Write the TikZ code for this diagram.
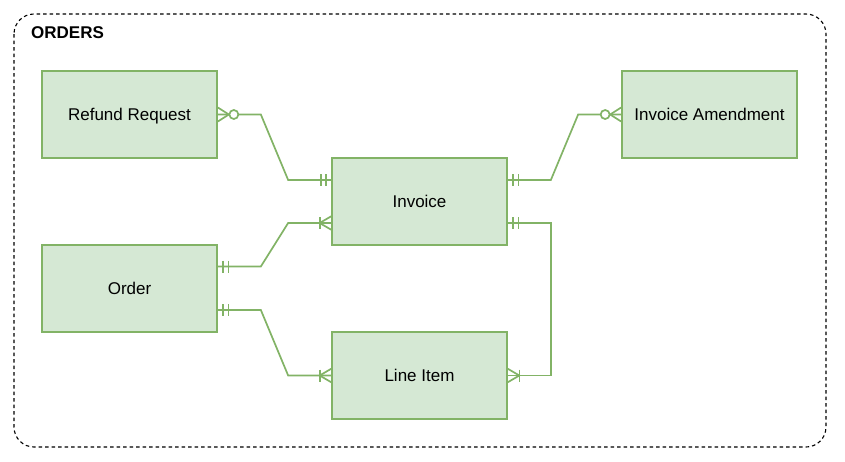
\documentclass[tikz,border=0pt]{standalone}
\usepackage{fontspec}
\setmainfont{Liberation Sans}
\usetikzlibrary{calc}
\definecolor{gfill}{HTML}{D5E8D4}
\definecolor{gline}{HTML}{82B366}
\tikzset{
  entity/.style={draw=gline, fill=gfill, line width=1.7pt, minimum width=175pt, minimum height=87pt, inner sep=0pt, text height=14.5pt, text depth=3.5pt, font=\fontsize{17}{20}\selectfont},
  conn/.style={draw=gline, line width=1.7pt},
  ermark/.style={draw=gline, line width=1.7pt},
}
\begin{document}
\begin{tikzpicture}[x=1pt,y=-1pt]
\useasboundingbox (0,0) rectangle (845,461);
\draw[line width=1.1pt, dash pattern=on 3.5pt off 3pt, rounded corners=20pt] (14,14) rectangle (826,447);
\node[anchor=west, font=\bfseries\fontsize{17}{20}\selectfont, inner sep=0pt] (title) at (31,33) {ORDERS};

\node[entity] (rr) at (129.5,114.5) {Refund Request};
\node[entity] (ia) at (709.5,114.5) {Invoice Amendment};
\node[entity] (inv) at (419.5,201.5) {Invoice};
\node[entity] (ord) at (129.5,288.5) {Order};
\node[entity] (li) at (419.5,375.5) {Line Item};

% Refund Request -- Invoice
\draw[conn] (rr.east) -- ++(43,0) -- ($(inv.west)+(-43,-21.5)$) -- ($(inv.west)+(0,-21.5)$);
% Invoice -- Invoice Amendment
\draw[conn] ($(inv.east)+(0,-21.5)$) -- ++(43,0) -- ($(ia.west)+(-43,0)$) -- (ia.west);
% Order -- Invoice
\draw[conn] ($(ord.east)+(0,-22)$) -- ++(43,0) -- ($(inv.west)+(-43,21.5)$) -- ($(inv.west)+(0,21.5)$);
% Order -- Line Item
\draw[conn] ($(ord.east)+(0,21.5)$) -- ++(43,0) -- ($(li.west)+(-43,0)$) -- (li.west);
% Invoice -- Line Item
\draw[conn] ($(inv.east)+(0,21.5)$) -- ++(43,0) -- ($(li.east)+(43,0)$) -- (li.east);

% zero-or-many at Refund Request
\draw[ermark] ($(rr.east)+(0,-7)$) -- ($(rr.east)+(11,0)$) -- ($(rr.east)+(0,7)$);
\draw[ermark, fill=white] ($(rr.east)+(16,0)$) circle (4.5);
% zero-or-many at Invoice Amendment
\draw[ermark] ($(ia.west)+(0,-7)$) -- ($(ia.west)+(-11,0)$) -- ($(ia.west)+(0,7)$);
\draw[ermark, fill=white] ($(ia.west)+(-16,0)$) circle (4.5);

% mandatory one at Invoice (left upper)
\draw[ermark] ($(inv.west)+(-5,-27.5)$) -- ($(inv.west)+(-5,-15.5)$);
\draw[ermark] ($(inv.west)+(-10.5,-27.5)$) -- ($(inv.west)+(-10.5,-15.5)$);
% mandatory one at Invoice (right upper)
\draw[ermark] ($(inv.east)+(5,-27.5)$) -- ($(inv.east)+(5,-15.5)$);
\draw[ermark] ($(inv.east)+(10.5,-27.5)$) -- ($(inv.east)+(10.5,-15.5)$);
% mandatory one at Invoice (right lower)
\draw[ermark] ($(inv.east)+(5,15.5)$) -- ($(inv.east)+(5,27.5)$);
\draw[ermark] ($(inv.east)+(10.5,15.5)$) -- ($(inv.east)+(10.5,27.5)$);
% mandatory one at Order (upper)
\draw[ermark] ($(ord.east)+(5,-28)$) -- ($(ord.east)+(5,-16)$);
\draw[ermark] ($(ord.east)+(10.5,-28)$) -- ($(ord.east)+(10.5,-16)$);
% mandatory one at Order (lower)
\draw[ermark] ($(ord.east)+(5,15.5)$) -- ($(ord.east)+(5,27.5)$);
\draw[ermark] ($(ord.east)+(10.5,15.5)$) -- ($(ord.east)+(10.5,27.5)$);

% one-or-many at Invoice (left lower)
\draw[ermark] ($(inv.west)+(0,14.8)$) -- ($(inv.west)+(-11.5,21.5)$) -- ($(inv.west)+(0,28.2)$);
\draw[ermark] ($(inv.west)+(-11.5,15.5)$) -- ($(inv.west)+(-11.5,27.5)$);
% one-or-many at Line Item (left)
\draw[ermark] ($(li.west)+(0,-6.7)$) -- ($(li.west)+(-11.5,0)$) -- ($(li.west)+(0,6.7)$);
\draw[ermark] ($(li.west)+(-11.5,-6)$) -- ($(li.west)+(-11.5,6)$);
% one-or-many at Line Item (right)
\draw[ermark] ($(li.east)+(0,-6.7)$) -- ($(li.east)+(11.5,0)$) -- ($(li.east)+(0,6.7)$);
\draw[ermark] ($(li.east)+(11.5,-6)$) -- ($(li.east)+(11.5,6)$);
\end{tikzpicture}
\end{document}
